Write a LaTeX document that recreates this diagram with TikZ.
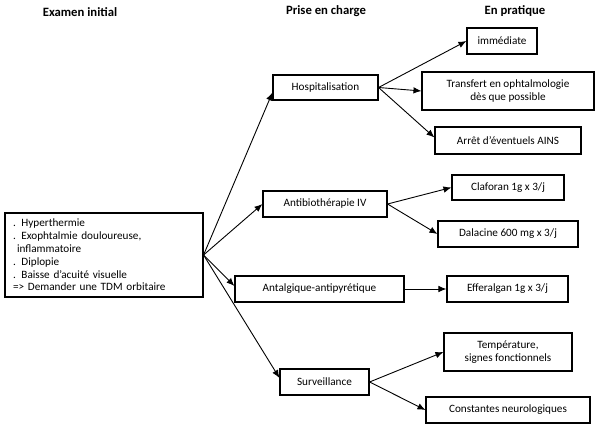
\documentclass[tikz,border=0pt]{standalone}
\usepackage{fontspec}
\setmainfont{Carlito}
\usetikzlibrary{arrows}
\usetikzlibrary{arrows.meta}

\begin{document}
\begin{tikzpicture}[x=1pt,y=-1pt]
\tikzstyle{every node}=[font=\fontsize{11.2}{12.8}\selectfont]
\tikzstyle{boite}=[draw,line width=1.1pt,minimum height=26pt,inner sep=2pt,align=center]
\tikzstyle{titre}=[font=\fontsize{12.7}{14}\selectfont\bfseries]
\tikzstyle{fleche}=[arrows={-Latex[length=8pt,width=6.5pt]},line width=0.9pt]
\useasboundingbox (0,0) rectangle (600,428);
% titres des colonnes
\node[titre] (examen) at (80,12) {Examen initial};
\node[titre] (prise) at (326,11) {Prise en charge};
\node[titre] (pratique) at (515,11) {En pratique};
% examen initial
\node[boite,minimum width=198pt,minimum height=84pt,text width=182pt,align=left] (init) at (104,255)
{. Hyperthermie\\
. Exophtalmie douloureuse,\\
\hspace*{4pt}inflammatoire\\
. Diplopie\\
. Baisse d'acuité visuelle\\
=> Demander une TDM orbitaire};
% prise en charge
\node[boite,minimum width=105pt,minimum height=25pt] (hosp) at (325.5,87.5) {Hospitalisation};
\node[boite,minimum width=124pt] (antibio) at (325,204) {Antibiothérapie IV};
\node[boite,minimum width=169pt] (antalg) at (319.5,289) {Antalgique-antipyrétique};
\node[boite,minimum width=89pt] (surv) at (324.5,382) {Surveillance};
% en pratique
\node[boite,minimum width=70pt] (immed) at (502,41) {immédiate};
\node[boite,minimum width=172pt,minimum height=38pt] (transf) at (508,91) {Transfert en ophtalmologie\\dès que possible};
\node[boite,minimum width=146pt,minimum height=27pt] (arret) at (508,140.5) {Arrêt d'éventuels AINS};
\node[boite,minimum width=112pt,minimum height=25pt] (clafo) at (508,187.5) {Claforan 1g x 3/j};
\node[boite,minimum width=140pt] (dala) at (508,234) {Dalacine 600 mg x 3/j};
\node[boite,minimum width=121pt] (effer) at (507.5,289) {Efferalgan 1g x 3/j};
\node[boite,minimum width=128pt,minimum height=38pt] (temp) at (508,352) {Température,\\signes fonctionnels};
\node[boite,minimum width=164pt] (const) at (508,410) {Constantes neurologiques};
% fleches
\path[fleche] (init.east) edge ([yshift=-5pt]hosp.west)
  edge (antibio.west)
  edge ([yshift=3pt]antalg.west)
  edge ([yshift=4pt]surv.west);
\path[fleche] (hosp.east) edge (immed.west)
  edge (transf.west)
  edge ([yshift=3pt]arret.west);
\path[fleche] (antibio.east) edge (clafo.west)
  edge (dala.west);
\path[fleche] (antalg.east) edge (effer.west);
\path[fleche] (surv.east) edge (temp.west)
  edge (const.west);
\end{tikzpicture}
\end{document}
